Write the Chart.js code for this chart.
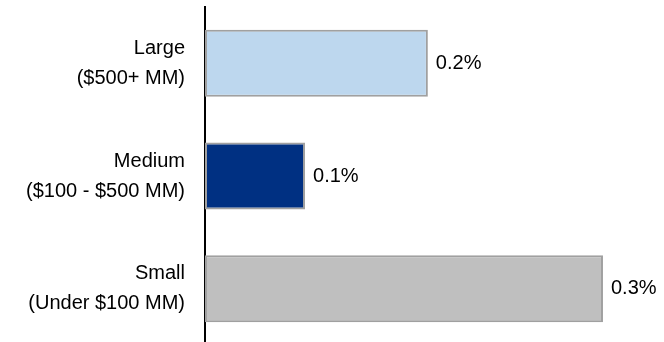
<!DOCTYPE html>
<html>
<head>
<meta charset="utf-8">
<script src="https://cdn.jsdelivr.net/npm/chart.js@4/dist/chart.umd.min.js"></script>
<style>
  html, body { margin: 0; padding: 0; background: #fff; overflow: hidden; }
  #wrap { position: relative; width: 664px; height: 345px; }
</style>
</head>
<body>
<div id="wrap"><canvas id="chart"></canvas></div>
<script>
// categories (two-line labels)
const categories = [
  ["Large", "($500+ MM)"],
  ["Medium", "($100 - $500 MM)"],
  ["Small", "(Under $100 MM)"]
];
// share values (%)
const values = [0.168, 0.0754, 0.30];
// labels printed next to each bar
const valueLabels = ["0.2%", "0.1%", "0.3%"];
const barColors = ["#BDD7EE", "#003082", "#BFBFBF"];

const FONT = "'Liberation Sans', Arial, sans-serif";

// draws the value text at the end of each bar
const endLabels = {
  id: "endLabels",
  afterDatasetsDraw(chart) {
    const ctx = chart.ctx;
    const meta = chart.getDatasetMeta(0);
    ctx.save();
    ctx.font = "20px " + FONT;
    ctx.fillStyle = "#000";
    ctx.textAlign = "left";
    ctx.textBaseline = "middle";
    meta.data.forEach((bar, i) => {
      ctx.fillText(valueLabels[i], bar.x + 8, bar.y);
    });
    ctx.restore();
  }
};

new Chart(document.getElementById("chart"), {
  type: "bar",
  data: {
    labels: categories,
    datasets: [{
      data: values,
      backgroundColor: barColors,
      borderColor: "#A0A0A0",
      borderWidth: 2,
      borderSkipped: false,
      categoryPercentage: 0.595,
      barPercentage: 1
    }]
  },
  options: {
    indexAxis: "y",
    responsive: true,
    maintainAspectRatio: false,
    animation: false,
    layout: { padding: { top: 7, right: 0, bottom: 0, left: 0 } },
    plugins: { legend: { display: false }, tooltip: { enabled: false } },
    scales: {
      x: { display: false, min: 0, max: 0.346 },
      y: {
        grid: { display: false, drawTicks: false },
        border: { display: true, color: "#000", width: 2 },
        ticks: {
          color: "#000",
          padding: 20,
          font: { family: FONT, size: 20, lineHeight: 1.5 }
        },
        afterFit(scale) {
          scale.width = 205;
          scale.paddingTop = 0;
          scale.paddingBottom = 0;
        }
      }
    }
  },
  plugins: [endLabels]
});
</script>
</body>
</html>
